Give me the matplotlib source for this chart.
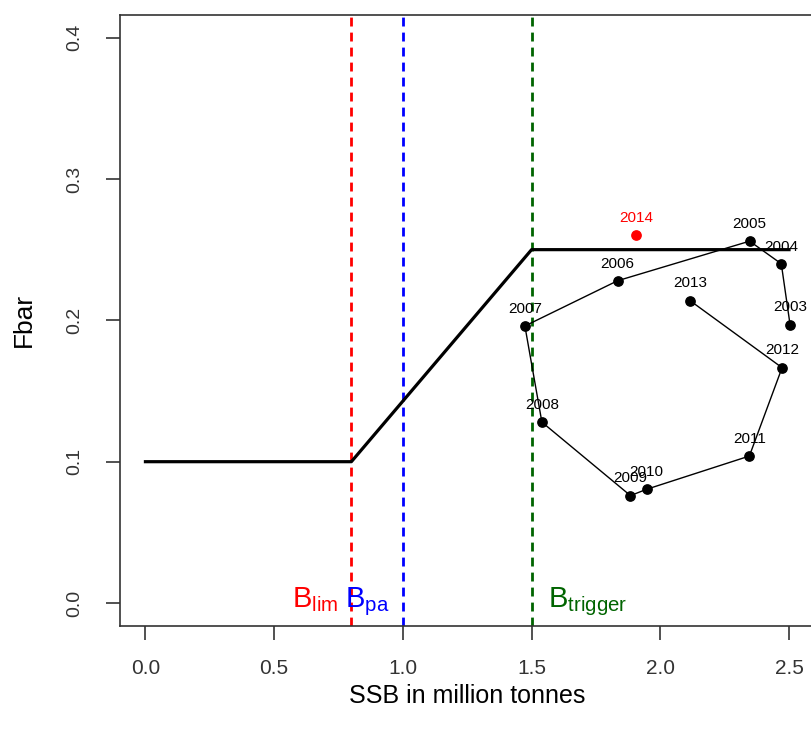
import numpy as np
import matplotlib
matplotlib.use("Agg")
import matplotlib.pyplot as plt

plt.rcParams['font.family'] = ['Liberation Sans', 'DejaVu Sans']
plt.rcParams['mathtext.fontset'] = 'custom'
plt.rcParams['mathtext.rm'] = 'Liberation Sans'
plt.rcParams['mathtext.it'] = 'Liberation Sans'

# stock trajectory (SSB in million tonnes, Fbar)
years = ['2003', '2004', '2005', '2006', '2007', '2008', '2009', '2010', '2011', '2012', '2013']
ssb = [2.504, 2.470, 2.347, 1.834, 1.474, 1.540, 1.884, 1.947, 2.346, 2.473, 2.115]
fbar = [0.197, 0.240, 0.256, 0.228, 0.196, 0.128, 0.076, 0.0805, 0.104, 0.1665, 0.214]

# latest year, shown in red
last_year = '2014'
last_ssb = 1.906
last_fbar = 0.2605

# harvest control rule
hcr_ssb = [0.0, 0.8, 1.5, 2.5]
hcr_f = [0.1, 0.1, 0.25, 0.25]

# reference points
blim = 0.8
bpa = 1.0
btrigger = 1.5

fig = plt.figure(figsize=(8.12, 7.38), dpi=100)
ax = fig.add_axes([0.1474, 0.1522, 0.856, 0.8275])

ax.plot(hcr_ssb, hcr_f, color='black', lw=2.3, zorder=3)

dash = (0, (3.2, 2.2))
ax.axvline(blim, color='red', lw=2.0, ls=dash)
ax.axvline(bpa, color='blue', lw=2.0, ls=dash)
ax.axvline(btrigger, color='#006400', lw=2.0, ls=dash)

ax.plot(ssb, fbar, color='black', lw=1.0, zorder=4)
ax.scatter(ssb, fbar, s=45, color='black', zorder=5)
for yr, x, y in zip(years, ssb, fbar):
    ax.annotate(yr, (x, y), xytext=(0, 9.5), textcoords='offset points',
                ha='center', va='baseline', fontsize=11)

ax.scatter([last_ssb], [last_fbar], s=45, color='red', zorder=5)
ax.annotate(last_year, (last_ssb, last_fbar), xytext=(0, 9.5), textcoords='offset points',
            ha='center', va='baseline', fontsize=11, color='red')

# reference point labels along the bottom
ax.annotate(r'B$_{\mathrm{lim}}$', (blim, 0.0), xytext=(-9.5, -3), textcoords='offset points',
            color='red', fontsize=21, ha='right', va='baseline')
ax.annotate(r'B$_{\mathrm{pa}}$', (bpa, 0.0), xytext=(-10, -3), textcoords='offset points',
            color='blue', fontsize=21, ha='right', va='baseline')
ax.annotate(r'B$_{\mathrm{trigger}}$', (btrigger, 0.0), xytext=(11.5, -3), textcoords='offset points',
            color='#006400', fontsize=21, ha='left', va='baseline')

ax.set_xlim(-0.1, 2.6)
ax.set_ylim(-0.016, 0.416)
ax.set_xticks(np.arange(0, 2.51, 0.5))
ax.set_yticks(np.arange(0, 0.41, 0.1))
ax.set_xticklabels(['%.1f' % v for v in np.arange(0, 2.51, 0.5)])
ax.set_yticklabels(['%.1f' % v for v in np.arange(0, 0.41, 0.1)], rotation=90, va='center')
ax.tick_params(length=10, width=1.2, color='#333333', labelcolor='#333333')
ax.tick_params(axis='x', labelsize=15, pad=14)
ax.tick_params(axis='y', labelsize=14, pad=16)
for s in ax.spines.values():
    s.set_color('#333333')
    s.set_linewidth(1.2)

ax.set_xlabel('SSB in million tonnes', fontsize=18, labelpad=4)
ax.set_ylabel('Fbar', fontsize=19, labelpad=22)

fig.savefig('out.png', dpi=100)
